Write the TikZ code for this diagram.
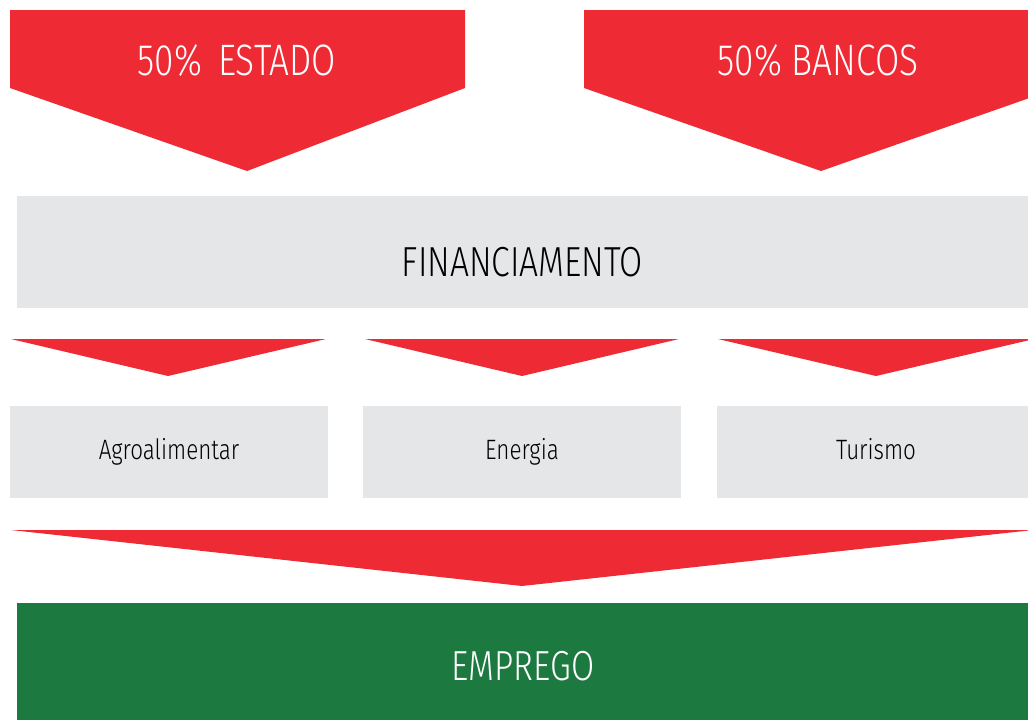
\documentclass[tikz,border=0pt]{standalone}
\usepackage{fontspec}
\setmainfont{Fira Sans Light}[FakeStretch=0.8]
\definecolor{seta}{HTML}{EE2A35}
\definecolor{cinza}{HTML}{E5E6E8}
\definecolor{verde}{HTML}{1C7A40}
\begin{document}
\begin{tikzpicture}[x=0.5pt,y=-0.5pt,
        caixa/.style={fill=cinza,inner sep=0pt,minimum height=46pt,text height=7.8pt,text depth=0pt,font=\fontsize{14}{17}\selectfont},
        titulo/.style={text=white,text height=15pt,text depth=0pt,font=\fontsize{22}{26}\selectfont}]
        \useasboundingbox (0,0) rectangle (1028,720);
        \clip (0,0) rectangle (1028,720);
        % setas de cima
        \fill[seta] (10,10)--(465,10)--(465,88)--(247,171)--(10,88)--cycle;
        \fill[seta] (584,10)--(1058,10)--(1058,88)--(821,171)--(584,88)--cycle;
        \node[titulo] (estado) at (237,60) {50\%\hspace{8pt}ESTADO};
        \node[titulo] (bancos) at (818,60) {50\% BANCOS};

        \node[caixa,minimum width=505.5pt,minimum height=56pt,text height=24pt,font=\fontsize{21}{25}\selectfont] (fin) at (522.5,252) {FINANCIAMENTO};

        % setas pequenas
        \fill[seta] (11,339)--(326,339)--(168,376)--cycle;
        \fill[seta] (365,339)--(679,339)--(522,376)--cycle;
        \fill[seta] (718,339)--(1034,339)--(876,376)--cycle;

        \node[caixa,minimum width=159pt] (agro) at (169,452) {Agroalimentar};
        \node[caixa,minimum width=159pt] (energia) at (522,452) {Energia};
        \node[caixa,minimum width=159pt] (turismo) at (876,452) {Turismo};

        % seta grande
        \fill[seta] (11,530)--(1033,530)--(522,586)--cycle;

        \node[fill=verde,inner sep=0pt,minimum width=506pt,minimum height=58.5pt,titulo,text height=19pt,font=\fontsize{21}{25}\selectfont] (emprego) at (523,661.5) {EMPREGO};
    \end{tikzpicture}
\end{document}
